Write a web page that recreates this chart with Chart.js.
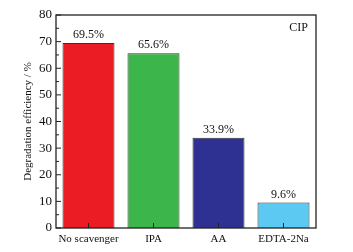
<!DOCTYPE html>
<html>
<head>
<meta charset="utf-8">
<script src="https://cdn.jsdelivr.net/npm/chart.js@4"></script>
<style>
  body { margin: 0; background: #fff; }
  canvas { display: block; }
</style>
</head>
<body>
<canvas id="chart" width="353" height="252"></canvas>
<script>
const categories = ['No scavenger', 'IPA', 'AA', 'EDTA-2Na'];
const efficiency = [69.5, 65.6, 33.9, 9.6];
const barColors = ['#ec1c24', '#3cb54a', '#2e3192', '#5bc9f1'];
const sampleName = 'CIP';
const yTitle = 'Degradation efficiency / %';

const serif = '"Liberation Serif", "DejaVu Serif", serif';

// frame, inward ticks, value labels
const decorations = {
  id: 'decorations',
  afterDraw(chart) {
    const ctx = chart.ctx;
    const area = chart.chartArea;
    const y = chart.scales.y;
    const x = chart.scales.x;
    ctx.save();
    ctx.strokeStyle = '#222';
    ctx.lineWidth = 1.3;
    ctx.strokeRect(area.left, area.top, area.right - area.left, area.bottom - area.top);

    ctx.lineWidth = 1;
    ctx.beginPath();
    y.ticks.forEach(t => {
      const py = y.getPixelForValue(t.value);
      ctx.moveTo(area.left, py);
      ctx.lineTo(area.left + 5, py);
      const pm = y.getPixelForValue(t.value + 5);
      if (t.value + 5 < y.max) {
        ctx.moveTo(area.left, pm);
        ctx.lineTo(area.left + 3, pm);
      }
    });
    categories.forEach((c, i) => {
      const px = x.getPixelForValue(i);
      ctx.moveTo(px, area.bottom);
      ctx.lineTo(px, area.bottom - 5);
    });
    ctx.stroke();

    ctx.fillStyle = '#111';
    ctx.font = '12px ' + serif;
    ctx.textAlign = 'center';
    ctx.textBaseline = 'bottom';
    chart.getDatasetMeta(0).data.forEach((bar, i) => {
      ctx.fillText(efficiency[i].toFixed(1) + '%', bar.x, bar.y - 2);
    });

    ctx.textAlign = 'right';
    ctx.textBaseline = 'middle';
    ctx.fillText(sampleName, area.right - 8, area.top + 13);
    ctx.restore();
  }
};

new Chart(document.getElementById('chart'), {
  type: 'bar',
  data: {
    labels: categories,
    datasets: [{
      data: efficiency,
      backgroundColor: barColors,
      borderColor: '#333',
      borderWidth: 1,
      barPercentage: 0.8,
      categoryPercentage: 1
    }]
  },
  options: {
    responsive: false,
    animation: false,
    layout: { padding: { top: 15, right: 37, left: 0, bottom: 0 } },
    plugins: { legend: { display: false }, tooltip: { enabled: false } },
    scales: {
      x: {
        grid: { display: false, drawTicks: false },
        border: { display: false },
        ticks: { color: '#111', font: { family: serif, size: 11 }, padding: 5, maxRotation: 0, autoSkip: false },
        afterFit(scale) { scale.height = 24; }
      },
      y: {
        min: 0,
        max: 80,
        grid: { display: false, drawTicks: false },
        border: { display: false },
        ticks: { stepSize: 10, color: '#111', font: { family: serif, size: 13 }, padding: 4 },
        title: { display: true, text: yTitle, color: '#111', font: { family: serif, size: 11 }, padding: { top: 22, bottom: 0 } },
        afterFit(scale) { scale.width = 56; }
      }
    }
  },
  plugins: [decorations]
});
</script>
</body>
</html>
